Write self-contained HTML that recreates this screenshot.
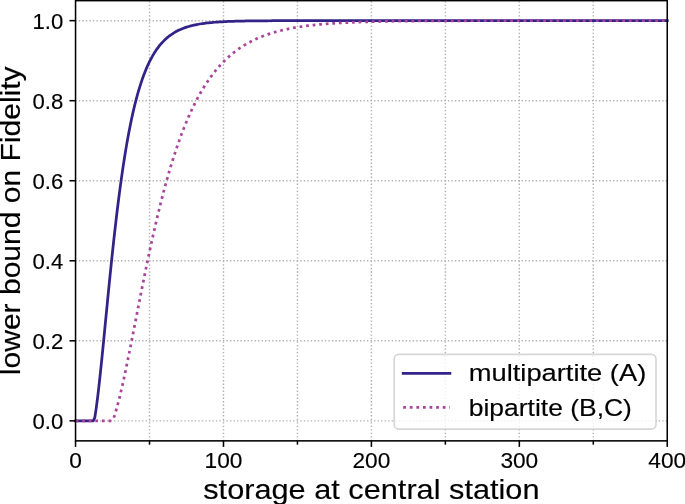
<!DOCTYPE html>
<html><head><meta charset="utf-8"><style>
html,body{margin:0;padding:0;background:#fff;}
svg{display:block;filter:blur(0.6px);}
text{font-family:"Liberation Sans",sans-serif;fill:#000;stroke:#000;stroke-width:0.15px;}
</style></head><body>
<svg width="685" height="504" viewBox="0 0 685 504">
<rect width="685" height="504" fill="#fff"/>
<g stroke="#b0b0b0" stroke-width="1.45" stroke-dasharray="1.33 2.1845" stroke-dashoffset="0.205" fill="none">
<line x1="75.55" x2="667.25" y1="420.85" y2="420.85"/>
<line x1="75.55" x2="667.25" y1="340.81" y2="340.81"/>
<line x1="75.55" x2="667.25" y1="260.77" y2="260.77"/>
<line x1="75.55" x2="667.25" y1="180.73" y2="180.73"/>
<line x1="75.55" x2="667.25" y1="100.69" y2="100.69"/>
<line x1="75.55" x2="667.25" y1="20.65" y2="20.65"/>
<line x1="149.51" x2="149.51" y1="440.86" y2="0.64" stroke-dasharray="1.33 2.1776" stroke-dashoffset="0.145"/>
<line x1="223.48" x2="223.48" y1="440.86" y2="0.64" stroke-dasharray="1.33 2.1776" stroke-dashoffset="0.145"/>
<line x1="297.44" x2="297.44" y1="440.86" y2="0.64" stroke-dasharray="1.33 2.1776" stroke-dashoffset="0.145"/>
<line x1="371.40" x2="371.40" y1="440.86" y2="0.64" stroke-dasharray="1.33 2.1776" stroke-dashoffset="0.145"/>
<line x1="445.36" x2="445.36" y1="440.86" y2="0.64" stroke-dasharray="1.33 2.1776" stroke-dashoffset="0.145"/>
<line x1="519.32" x2="519.32" y1="440.86" y2="0.64" stroke-dasharray="1.33 2.1776" stroke-dashoffset="0.145"/>
<line x1="593.29" x2="593.29" y1="440.86" y2="0.64" stroke-dasharray="1.33 2.1776" stroke-dashoffset="0.145"/>
</g>
<path d="M75.55,420.85 L77.03,420.85 L78.51,420.85 L79.99,420.85 L81.47,420.85 L82.95,420.85 L84.43,420.85 L85.90,420.85 L87.38,420.85 L88.86,420.85 L90.34,420.85 L91.82,420.85 L93.30,420.85 L94.78,417.67 L96.26,407.90 L97.74,396.45 L99.22,383.69 L100.70,369.94 L102.18,355.49 L103.66,340.58 L105.13,325.44 L106.61,310.26 L108.09,295.18 L109.57,280.34 L111.05,265.83 L112.53,251.75 L114.01,238.13 L115.49,225.05 L116.97,212.51 L118.45,200.54 L119.93,189.16 L121.41,178.35 L122.89,168.13 L124.37,158.46 L125.84,149.35 L127.32,140.77 L128.80,132.71 L130.28,125.14 L131.76,118.04 L133.24,111.39 L134.72,105.17 L136.20,99.35 L137.68,93.91 L139.16,88.83 L140.64,84.09 L142.12,79.67 L143.60,75.54 L145.07,71.70 L146.55,68.12 L148.03,64.78 L149.51,61.68 L150.99,58.79 L152.47,56.10 L153.95,53.60 L155.43,51.27 L156.91,49.10 L158.39,47.09 L159.87,45.21 L161.35,43.47 L162.83,41.85 L164.31,40.35 L165.78,38.95 L167.26,37.65 L168.74,36.44 L170.22,35.32 L171.70,34.28 L173.18,33.31 L174.66,32.41 L176.14,31.57 L177.62,30.80 L179.10,30.07 L180.58,29.40 L182.06,28.78 L183.54,28.20 L185.01,27.66 L186.49,27.16 L187.97,26.70 L189.45,26.27 L190.93,25.87 L192.41,25.50 L193.89,25.15 L195.37,24.83 L196.85,24.53 L198.33,24.26 L199.81,24.00 L201.29,23.76 L202.77,23.54 L204.24,23.33 L205.72,23.14 L207.20,22.97 L208.68,22.80 L210.16,22.65 L211.64,22.51 L213.12,22.37 L214.60,22.25 L216.08,22.14 L217.56,22.03 L219.04,21.93 L220.52,21.84 L222.00,21.76 L223.48,21.68 L224.95,21.60 L226.43,21.54 L227.91,21.47 L229.39,21.41 L230.87,21.36 L232.35,21.31 L233.83,21.26 L235.31,21.22 L236.79,21.18 L238.27,21.14 L239.75,21.11 L241.23,21.07 L242.71,21.04 L244.18,21.01 L245.66,20.99 L247.14,20.96 L248.62,20.94 L250.10,20.92 L251.58,20.90 L253.06,20.88 L254.54,20.87 L256.02,20.85 L257.50,20.84 L258.98,20.82 L260.46,20.81 L261.94,20.80 L263.41,20.79 L264.89,20.78 L266.37,20.77 L267.85,20.76 L269.33,20.75 L270.81,20.75 L272.29,20.74 L273.77,20.73 L275.25,20.73 L276.73,20.72 L278.21,20.72 L279.69,20.71 L281.17,20.71 L282.64,20.70 L284.12,20.70 L285.60,20.70 L287.08,20.69 L288.56,20.69 L290.04,20.69 L291.52,20.68 L293.00,20.68 L294.48,20.68 L295.96,20.68 L297.44,20.68 L298.92,20.67 L300.40,20.67 L301.88,20.67 L303.35,20.67 L304.83,20.67 L306.31,20.67 L307.79,20.67 L309.27,20.66 L310.75,20.66 L312.23,20.66 L313.71,20.66 L315.19,20.66 L316.67,20.66 L318.15,20.66 L319.63,20.66 L321.11,20.66 L322.58,20.66 L324.06,20.66 L325.54,20.66 L327.02,20.66 L328.50,20.66 L329.98,20.66 L331.46,20.65 L332.94,20.65 L334.42,20.65 L335.90,20.65 L337.38,20.65 L338.86,20.65 L340.34,20.65 L341.82,20.65 L343.29,20.65 L344.77,20.65 L346.25,20.65 L347.73,20.65 L349.21,20.65 L350.69,20.65 L352.17,20.65 L353.65,20.65 L355.13,20.65 L356.61,20.65 L358.09,20.65 L359.57,20.65 L361.05,20.65 L362.52,20.65 L364.00,20.65 L365.48,20.65 L366.96,20.65 L368.44,20.65 L369.92,20.65 L371.40,20.65 L372.88,20.65 L374.36,20.65 L375.84,20.65 L377.32,20.65 L378.80,20.65 L380.28,20.65 L381.75,20.65 L383.23,20.65 L384.71,20.65 L386.19,20.65 L387.67,20.65 L389.15,20.65 L390.63,20.65 L392.11,20.65 L393.59,20.65 L395.07,20.65 L396.55,20.65 L398.03,20.65 L399.51,20.65 L400.99,20.65 L402.46,20.65 L403.94,20.65 L405.42,20.65 L406.90,20.65 L408.38,20.65 L409.86,20.65 L411.34,20.65 L412.82,20.65 L414.30,20.65 L415.78,20.65 L417.26,20.65 L418.74,20.65 L420.22,20.65 L421.69,20.65 L423.17,20.65 L424.65,20.65 L426.13,20.65 L427.61,20.65 L429.09,20.65 L430.57,20.65 L432.05,20.65 L433.53,20.65 L435.01,20.65 L436.49,20.65 L437.97,20.65 L439.45,20.65 L440.92,20.65 L442.40,20.65 L443.88,20.65 L445.36,20.65 L446.84,20.65 L448.32,20.65 L449.80,20.65 L451.28,20.65 L452.76,20.65 L454.24,20.65 L455.72,20.65 L457.20,20.65 L458.68,20.65 L460.16,20.65 L461.63,20.65 L463.11,20.65 L464.59,20.65 L466.07,20.65 L467.55,20.65 L469.03,20.65 L470.51,20.65 L471.99,20.65 L473.47,20.65 L474.95,20.65 L476.43,20.65 L477.91,20.65 L479.39,20.65 L480.86,20.65 L482.34,20.65 L483.82,20.65 L485.30,20.65 L486.78,20.65 L488.26,20.65 L489.74,20.65 L491.22,20.65 L492.70,20.65 L494.18,20.65 L495.66,20.65 L497.14,20.65 L498.62,20.65 L500.09,20.65 L501.57,20.65 L503.05,20.65 L504.53,20.65 L506.01,20.65 L507.49,20.65 L508.97,20.65 L510.45,20.65 L511.93,20.65 L513.41,20.65 L514.89,20.65 L516.37,20.65 L517.85,20.65 L519.32,20.65 L520.80,20.65 L522.28,20.65 L523.76,20.65 L525.24,20.65 L526.72,20.65 L528.20,20.65 L529.68,20.65 L531.16,20.65 L532.64,20.65 L534.12,20.65 L535.60,20.65 L537.08,20.65 L538.56,20.65 L540.03,20.65 L541.51,20.65 L542.99,20.65 L544.47,20.65 L545.95,20.65 L547.43,20.65 L548.91,20.65 L550.39,20.65 L551.87,20.65 L553.35,20.65 L554.83,20.65 L556.31,20.65 L557.79,20.65 L559.26,20.65 L560.74,20.65 L562.22,20.65 L563.70,20.65 L565.18,20.65 L566.66,20.65 L568.14,20.65 L569.62,20.65 L571.10,20.65 L572.58,20.65 L574.06,20.65 L575.54,20.65 L577.02,20.65 L578.50,20.65 L579.97,20.65 L581.45,20.65 L582.93,20.65 L584.41,20.65 L585.89,20.65 L587.37,20.65 L588.85,20.65 L590.33,20.65 L591.81,20.65 L593.29,20.65 L594.77,20.65 L596.25,20.65 L597.73,20.65 L599.20,20.65 L600.68,20.65 L602.16,20.65 L603.64,20.65 L605.12,20.65 L606.60,20.65 L608.08,20.65 L609.56,20.65 L611.04,20.65 L612.52,20.65 L614.00,20.65 L615.48,20.65 L616.96,20.65 L618.43,20.65 L619.91,20.65 L621.39,20.65 L622.87,20.65 L624.35,20.65 L625.83,20.65 L627.31,20.65 L628.79,20.65 L630.27,20.65 L631.75,20.65 L633.23,20.65 L634.71,20.65 L636.19,20.65 L637.67,20.65 L639.14,20.65 L640.62,20.65 L642.10,20.65 L643.58,20.65 L645.06,20.65 L646.54,20.65 L648.02,20.65 L649.50,20.65 L650.98,20.65 L652.46,20.65 L653.94,20.65 L655.42,20.65 L656.90,20.65 L658.37,20.65 L659.85,20.65 L661.33,20.65 L662.81,20.65 L664.29,20.65 L665.77,20.65 L667.25,20.65" fill="none" stroke="#332288" stroke-width="2.75" stroke-linejoin="round" stroke-linecap="square"/>
<path d="M75.55,420.85 L112.72,420.85" fill="none" stroke="#AA4499" stroke-width="2.75" stroke-dasharray="2.750 3.840" stroke-dashoffset="0"/>
<path d="M112.72,420.85 L112.90,420.35 L113.27,419.32 L113.64,418.26 L114.01,417.17 L114.38,416.04 L114.75,414.89 L115.12,413.70 L115.49,412.49 L115.86,411.24 L116.23,409.97 L116.60,408.67 L116.97,407.35 L117.34,406.00 L117.71,404.63 L118.08,403.23 L118.45,401.81 L118.82,400.36 L119.19,398.89 L119.56,397.40 L119.93,395.89 L120.30,394.37 L120.67,392.82 L121.04,391.25 L121.41,389.66 L121.78,388.06 L122.15,386.44 L122.52,384.80 L122.89,383.15 L123.26,381.48 L123.63,379.80 L124.00,378.10 L124.37,376.39 L124.74,374.67 L125.10,372.93 L125.47,371.18 L125.84,369.42 L126.21,367.65 L126.58,365.87 L126.95,364.08 L127.32,362.29 L127.69,360.48 L128.06,358.66 L128.43,356.84 L128.80,355.01 L129.17,353.17 L129.54,351.33 L129.91,349.48 L130.28,347.62 L130.65,345.76 L131.02,343.89 L131.39,342.02 L131.76,340.15 L132.13,338.27 L132.50,336.39 L132.87,334.51 L133.24,332.62 L133.61,330.74 L133.98,328.85 L134.35,326.96 L134.72,325.07 L135.09,323.17 L135.46,321.28 L135.83,319.39 L136.20,317.50 L136.57,315.60 L136.94,313.71 L137.31,311.82 L137.68,309.94 L138.05,308.05 L138.42,306.17 L138.79,304.28 L139.16,302.40 L139.53,300.53 L139.90,298.65 L140.27,296.78 L140.64,294.91 L141.01,293.05 L141.38,291.19 L141.75,289.34 L142.12,287.48 L142.49,285.64 L142.86,283.80 L143.23,281.96 L143.60,280.13 L143.97,278.30 L144.34,276.48 L144.70,274.66 L145.07,272.85 L145.44,271.05 L145.81,269.25 L146.18,267.46 L146.55,265.67 L146.92,263.89 L147.29,262.12 L147.66,260.36 L148.03,258.60 L148.40,256.84 L148.77,255.10 L149.14,253.36 L149.51,251.63 L149.88,249.91 L150.25,248.19 L150.62,246.49 L150.99,244.79 L151.36,243.09 L151.73,241.41 L152.10,239.73 L152.47,238.07 L152.84,236.40 L153.21,234.75 L153.58,233.11 L153.95,231.47 L154.32,229.85 L154.69,228.23 L155.06,226.62 L155.43,225.02 L155.80,223.42 L156.17,221.84 L156.54,220.26 L156.91,218.70 L157.28,217.14 L157.65,215.59 L158.02,214.05 L158.39,212.52 L158.76,210.99 L159.13,209.48 L159.50,207.97 L159.87,206.48 L160.24,204.99 L160.61,203.51 L160.98,202.04 L161.35,200.58 L161.72,199.13 L162.09,197.69 L162.46,196.25 L162.83,194.83 L163.20,193.42 L163.57,192.01 L163.94,190.61 L164.31,189.22 L164.67,187.84 L165.04,186.47 L165.41,185.11 L165.78,183.76 L166.15,182.42 L166.52,181.08 L166.89,179.76 L167.26,178.44 L167.63,177.14 L168.00,175.84 L168.37,174.55 L168.74,173.27 L169.11,172.00 L169.48,170.73 L169.85,169.48 L170.22,168.23 L170.59,167.00 L170.96,165.77 L171.33,164.55 L171.70,163.34 L172.07,162.14 L172.44,160.95 L172.81,159.76 L173.18,158.59 L173.55,157.42 L173.92,156.26 L174.29,155.11 L174.66,153.97 L175.03,152.84 L175.40,151.71 L175.77,150.60 L176.14,149.49 L176.51,148.39 L176.88,147.30 L177.25,146.22 L177.62,145.14 L177.99,144.07 L178.36,143.02 L178.73,141.97 L179.10,140.92 L179.47,139.89 L179.84,138.86 L180.21,137.84 L180.58,136.83 L180.95,135.83 L181.32,134.84 L181.69,133.85 L182.06,132.87 L182.43,131.90 L182.80,130.93 L183.17,129.98 L183.54,129.03 L183.91,128.08 L184.27,127.15 L184.64,126.22 L185.01,125.30 L185.38,124.39 L185.75,123.49 L186.12,122.59 L186.49,121.70 L186.86,120.82 L187.23,119.94 L187.60,119.07 L187.97,118.21 L188.34,117.35 L188.71,116.51 L189.08,115.67 L189.45,114.83 L189.82,114.00 L190.19,113.18 L190.56,112.37 L190.93,111.56 L191.30,110.76 L191.67,109.97 L192.04,109.18 L192.41,108.40 L192.78,107.62 L193.15,106.86 L193.52,106.09 L193.89,105.34 L194.26,104.59 L194.63,103.85 L195.00,103.11 L195.37,102.38 L195.74,101.66 L196.11,100.94 L196.48,100.22 L196.85,99.52 L197.22,98.82 L197.59,98.12 L197.96,97.44 L198.33,96.75 L198.70,96.08 L199.07,95.40 L199.44,94.74 L199.81,94.08 L200.18,93.42 L200.55,92.78 L200.92,92.13 L201.29,91.49 L201.66,90.86 L202.03,90.23 L202.40,89.61 L202.77,89.00 L203.14,88.39 L203.51,87.78 L203.87,87.18 L204.24,86.58 L204.61,85.99 L204.98,85.41 L205.35,84.83 L205.72,84.25 L206.09,83.68 L206.46,83.12 L206.83,82.56 L207.20,82.00 L207.57,81.45 L207.94,80.91 L208.31,80.36 L208.68,79.83 L209.05,79.30 L209.42,78.77 L209.79,78.25 L210.16,77.73 L210.53,77.21 L210.90,76.70 L211.27,76.20 L211.64,75.70 L212.01,75.20 L212.38,74.71 L212.75,74.23 L213.12,73.74 L213.49,73.26 L213.86,72.79 L214.23,72.32 L214.60,71.85 L214.97,71.39 L215.34,70.93 L215.71,70.48 L216.08,70.03 L216.45,69.58 L216.82,69.14 L217.19,68.70 L217.56,68.27 L217.93,67.84 L218.30,67.41 L218.67,66.99 L219.04,66.57 L219.41,66.15 L219.78,65.74 L220.15,65.33 L220.52,64.93 L220.89,64.53 L221.26,64.13 L221.63,63.73 L222.00,63.34 L222.37,62.96 L222.74,62.57 L223.11,62.19 L223.48,61.82 L223.84,61.44 L224.21,61.07 L224.58,60.71 L224.95,60.34 L225.32,59.98 L225.69,59.63 L226.06,59.27 L226.43,58.92 L226.80,58.57 L227.17,58.23 L227.54,57.89 L227.91,57.55 L228.28,57.21 L228.65,56.88 L229.02,56.55 L229.39,56.23 L229.76,55.90 L230.13,55.58 L230.50,55.26 L230.87,54.95 L231.24,54.64 L231.61,54.33 L231.98,54.02 L232.35,53.72 L232.72,53.42 L233.09,53.12 L233.46,52.82 L233.83,52.53 L234.20,52.24 L234.57,51.95 L234.94,51.67 L235.31,51.38 L235.68,51.10 L236.05,50.83 L236.42,50.55 L236.79,50.28 L237.16,50.01 L237.53,49.74 L237.90,49.48 L238.27,49.21 L238.64,48.95 L239.01,48.70 L239.38,48.44 L239.75,48.19 L240.12,47.93 L240.49,47.69 L240.86,47.44 L241.23,47.19 L241.60,46.95 L241.97,46.71 L242.34,46.47 L242.71,46.24 L243.08,46.01 L243.44,45.77 L243.81,45.54 L244.18,45.32 L244.55,45.09 L244.92,44.87 L245.29,44.65 L245.66,44.43 L246.03,44.21 L246.40,44.00 L246.77,43.78 L247.14,43.57 L247.51,43.36 L247.88,43.15 L248.25,42.95 L248.62,42.74 L248.99,42.54 L249.36,42.34 L249.73,42.14 L250.10,41.95 L250.47,41.75 L250.84,41.56 L251.21,41.37 L251.58,41.18 L251.95,40.99 L252.32,40.81 L252.69,40.62 L253.06,40.44 L254.54,39.72 L256.02,39.04 L257.50,38.37 L258.98,37.73 L260.46,37.12 L261.94,36.52 L263.41,35.95 L264.89,35.39 L266.37,34.86 L267.85,34.35 L269.33,33.85 L270.81,33.38 L272.29,32.92 L273.77,32.47 L275.25,32.04 L276.73,31.63 L278.21,31.23 L279.69,30.85 L281.17,30.48 L282.64,30.13 L284.12,29.78 L285.60,29.45 L287.08,29.13 L288.56,28.83 L290.04,28.53 L291.52,28.25 L293.00,27.97 L294.48,27.71 L295.96,27.45 L297.44,27.20 L298.92,26.97 L300.40,26.74 L301.88,26.52 L303.35,26.31 L304.83,26.10 L306.31,25.90 L307.79,25.71 L309.27,25.53 L310.75,25.35 L312.23,25.18 L313.71,25.02 L315.19,24.86 L316.67,24.71 L318.15,24.56 L319.63,24.42 L321.11,24.28 L322.58,24.15 L324.06,24.02 L325.54,23.90 L327.02,23.78 L328.50,23.67 L329.98,23.56 L331.46,23.46 L332.94,23.35 L334.42,23.26 L335.90,23.16 L337.38,23.07 L338.86,22.98 L340.34,22.90 L341.82,22.82 L343.29,22.74 L344.77,22.66 L346.25,22.59 L347.73,22.52 L349.21,22.45 L350.69,22.39 L352.17,22.32 L353.65,22.26 L355.13,22.20 L356.61,22.15 L358.09,22.09 L359.57,22.04 L361.05,21.99 L362.52,21.94 L364.00,21.90 L365.48,21.85 L366.96,21.81 L368.44,21.77 L369.92,21.72 L371.40,21.69 L372.88,21.65 L374.36,21.61 L375.84,21.58 L377.32,21.54 L378.80,21.51 L380.28,21.48 L381.75,21.45 L383.23,21.42 L384.71,21.39 L386.19,21.37 L387.67,21.34 L389.15,21.32 L390.63,21.29 L392.11,21.27 L393.59,21.25 L395.07,21.22 L396.55,21.20 L398.03,21.18 L399.51,21.16 L400.99,21.15 L402.46,21.13 L403.94,21.11 L405.42,21.09 L406.90,21.08 L408.38,21.06 L409.86,21.05 L411.34,21.03 L412.82,21.02 L414.30,21.01 L415.78,20.99 L417.26,20.98 L418.74,20.97 L420.22,20.96 L421.69,20.95 L423.17,20.93 L424.65,20.92 L426.13,20.91 L427.61,20.90 L429.09,20.90 L430.57,20.89 L432.05,20.88 L433.53,20.87 L435.01,20.86 L436.49,20.85 L437.97,20.85 L439.45,20.84 L440.92,20.83 L442.40,20.83 L443.88,20.82 L445.36,20.81 L446.84,20.81 L448.32,20.80 L449.80,20.80 L451.28,20.79 L452.76,20.79 L454.24,20.78 L455.72,20.78 L457.20,20.77 L458.68,20.77 L460.16,20.76 L461.63,20.76 L463.11,20.76 L464.59,20.75 L466.07,20.75 L467.55,20.74 L469.03,20.74 L470.51,20.74 L471.99,20.73 L473.47,20.73 L474.95,20.73 L476.43,20.73 L477.91,20.72 L479.39,20.72 L480.86,20.72 L482.34,20.72 L483.82,20.71 L485.30,20.71 L486.78,20.71 L488.26,20.71 L489.74,20.70 L491.22,20.70 L492.70,20.70 L494.18,20.70 L495.66,20.70 L497.14,20.69 L498.62,20.69 L500.09,20.69 L501.57,20.69 L503.05,20.69 L504.53,20.69 L506.01,20.69 L507.49,20.68 L508.97,20.68 L510.45,20.68 L511.93,20.68 L513.41,20.68 L514.89,20.68 L516.37,20.68 L517.85,20.68 L519.32,20.68 L520.80,20.67 L522.28,20.67 L523.76,20.67 L525.24,20.67 L526.72,20.67 L528.20,20.67 L529.68,20.67 L531.16,20.67 L532.64,20.67 L534.12,20.67 L535.60,20.67 L537.08,20.67 L538.56,20.67 L540.03,20.67 L541.51,20.66 L542.99,20.66 L544.47,20.66 L545.95,20.66 L547.43,20.66 L548.91,20.66 L550.39,20.66 L551.87,20.66 L553.35,20.66 L554.83,20.66 L556.31,20.66 L557.79,20.66 L559.26,20.66 L560.74,20.66 L562.22,20.66 L563.70,20.66 L565.18,20.66 L566.66,20.66 L568.14,20.66 L569.62,20.66 L571.10,20.66 L572.58,20.66 L574.06,20.66 L575.54,20.66 L577.02,20.66 L578.50,20.66 L579.97,20.66 L581.45,20.66 L582.93,20.66 L584.41,20.66 L585.89,20.65 L587.37,20.65 L588.85,20.65 L590.33,20.65 L591.81,20.65 L593.29,20.65 L594.77,20.65 L596.25,20.65 L597.73,20.65 L599.20,20.65 L600.68,20.65 L602.16,20.65 L603.64,20.65 L605.12,20.65 L606.60,20.65 L608.08,20.65 L609.56,20.65 L611.04,20.65 L612.52,20.65 L614.00,20.65 L615.48,20.65 L616.96,20.65 L618.43,20.65 L619.91,20.65 L621.39,20.65 L622.87,20.65 L624.35,20.65 L625.83,20.65 L627.31,20.65 L628.79,20.65 L630.27,20.65 L631.75,20.65 L633.23,20.65 L634.71,20.65 L636.19,20.65 L637.67,20.65 L639.14,20.65 L640.62,20.65 L642.10,20.65 L643.58,20.65 L645.06,20.65 L646.54,20.65 L648.02,20.65 L649.50,20.65 L650.98,20.65 L652.46,20.65 L653.94,20.65 L655.42,20.65 L656.90,20.65 L658.37,20.65 L659.85,20.65 L661.33,20.65 L662.81,20.65 L664.29,20.65 L665.77,20.65 L667.25,20.65" fill="none" stroke="#AA4499" stroke-width="2.75" stroke-dasharray="2.750 3.840" stroke-dashoffset="3.217" stroke-linejoin="round"/>
<g stroke="#000" stroke-width="1.55" fill="none" stroke-linecap="square">
<rect x="75.55" y="0.64" width="591.70" height="440.22"/>
</g>
<g stroke="#000" stroke-width="1.55">
<line x1="75.55" x2="75.55" y1="440.86" y2="446.91"/>
<line x1="223.48" x2="223.48" y1="440.86" y2="446.91"/>
<line x1="371.40" x2="371.40" y1="440.86" y2="446.91"/>
<line x1="519.32" x2="519.32" y1="440.86" y2="446.91"/>
<line x1="667.25" x2="667.25" y1="440.86" y2="446.91"/>
<line x1="149.51" x2="149.51" y1="440.86" y2="444.66"/>
<line x1="297.44" x2="297.44" y1="440.86" y2="444.66"/>
<line x1="445.36" x2="445.36" y1="440.86" y2="444.66"/>
<line x1="593.29" x2="593.29" y1="440.86" y2="444.66"/>
<line x1="69.50" x2="75.55" y1="420.85" y2="420.85"/>
<line x1="69.50" x2="75.55" y1="340.81" y2="340.81"/>
<line x1="69.50" x2="75.55" y1="260.77" y2="260.77"/>
<line x1="69.50" x2="75.55" y1="180.73" y2="180.73"/>
<line x1="69.50" x2="75.55" y1="100.69" y2="100.69"/>
<line x1="69.50" x2="75.55" y1="20.65" y2="20.65"/>
</g>
<rect x="394.20" y="354.30" width="261.80" height="74.75" rx="4.63" ry="4.63" fill="#fff" fill-opacity="0.8" stroke="#cccccc" stroke-opacity="0.8" stroke-width="1.65"/>
<line x1="403.20" x2="449.90" y1="373.30" y2="373.30" stroke="#332288" stroke-width="2.75" stroke-linecap="square"/>
<line x1="403.20" x2="449.90" y1="407.30" y2="407.30" stroke="#AA4499" stroke-width="2.75" stroke-dasharray="2.750 3.840" stroke-dashoffset="0"/>
<text x="468.78" y="381.30" font-size="24.3" textLength="177.50" lengthAdjust="spacingAndGlyphs">multipartite (A)</text>
<text x="468.78" y="415.60" font-size="24.3" textLength="163.12" lengthAdjust="spacingAndGlyphs">bipartite (B,C)</text>
<text x="75.55" y="467.70" text-anchor="middle" font-size="21.6" textLength="12.62" lengthAdjust="spacingAndGlyphs">0</text>
<text x="223.48" y="467.70" text-anchor="middle" font-size="21.6" textLength="37.85" lengthAdjust="spacingAndGlyphs">100</text>
<text x="371.40" y="467.70" text-anchor="middle" font-size="21.6" textLength="37.85" lengthAdjust="spacingAndGlyphs">200</text>
<text x="519.32" y="467.70" text-anchor="middle" font-size="21.6" textLength="37.85" lengthAdjust="spacingAndGlyphs">300</text>
<text x="667.25" y="467.70" text-anchor="middle" font-size="21.6" textLength="37.85" lengthAdjust="spacingAndGlyphs">400</text>
<text x="63.30" y="428.85" text-anchor="end" font-size="21.6" textLength="30.76" lengthAdjust="spacingAndGlyphs">0.0</text>
<text x="63.30" y="348.81" text-anchor="end" font-size="21.6" textLength="30.76" lengthAdjust="spacingAndGlyphs">0.2</text>
<text x="63.30" y="268.77" text-anchor="end" font-size="21.6" textLength="30.76" lengthAdjust="spacingAndGlyphs">0.4</text>
<text x="63.30" y="188.73" text-anchor="end" font-size="21.6" textLength="30.76" lengthAdjust="spacingAndGlyphs">0.6</text>
<text x="63.30" y="108.69" text-anchor="end" font-size="21.6" textLength="30.76" lengthAdjust="spacingAndGlyphs">0.8</text>
<text x="63.30" y="28.65" text-anchor="end" font-size="21.6" textLength="30.76" lengthAdjust="spacingAndGlyphs">1.0</text>
<text x="203.27" y="498.50" font-size="27.8" textLength="336.25" lengthAdjust="spacingAndGlyphs">storage at central station</text>
<text transform="translate(20.40,375.13) rotate(-90)" font-size="27.8" textLength="308.75" lengthAdjust="spacingAndGlyphs">lower bound on Fidelity</text>
</svg>
</body></html>
